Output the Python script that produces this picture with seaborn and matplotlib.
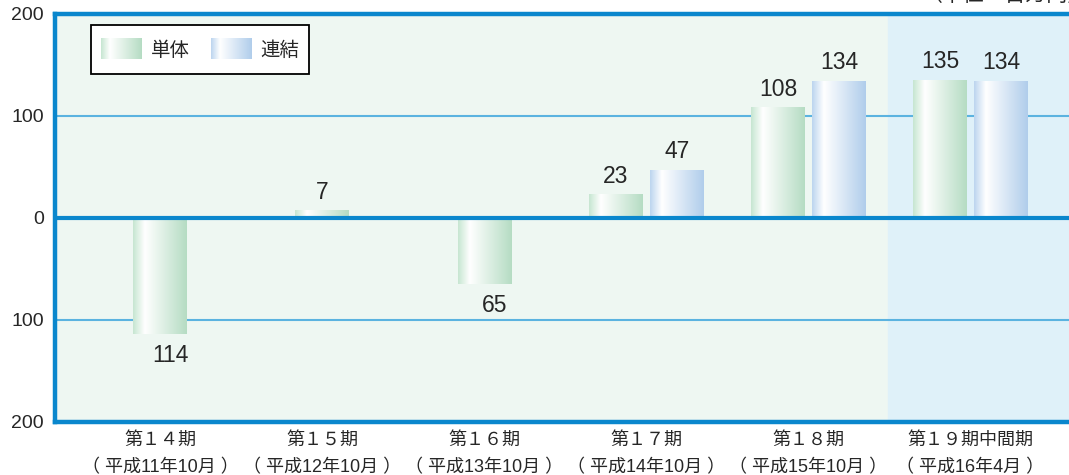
import numpy as np
import pandas as pd
import matplotlib
matplotlib.use("Agg")
import matplotlib.pyplot as plt
import seaborn as sns
from matplotlib.colors import LinearSegmentedColormap
from matplotlib.patches import Patch
from matplotlib.legend_handler import HandlerBase
from matplotlib.image import BboxImage
from matplotlib.transforms import Bbox, TransformedBbox

sns.set_style("white")
plt.rcParams['font.family'] = ['Liberation Sans', 'Noto Sans CJK JP']

# データ（単位：百万円）
periods = ['第１４期\n（ 平成11年10月 ）', '第１５期\n（ 平成12年10月 ）', '第１６期\n（ 平成13年10月 ）',
           '第１７期\n（ 平成14年10月 ）', '第１８期\n（ 平成15年10月 ）', '第１９期中間期\n（ 平成16年4月 ）']
tantai = [-114, 7, -65, 23, 108, 135]
renketsu = [None, None, None, 47, 134, 134]
series = ['単体', '連結']
ytick_vals = [200, 100, 0, -100, -200]
ytick_labels = ['200', '100', '0', '100', '200']

BLUE = '#0a87cd'
GREEN_BASE = '#b5dcc3'
BLUE_BASE = '#b0cdeb'
cmap_g = LinearSegmentedColormap.from_list('g', [(0, '#c6e6d1'), (0.22, '#ffffff'), (1, GREEN_BASE)])
cmap_b = LinearSegmentedColormap.from_list('b', [(0, '#bcd5ef'), (0.22, '#ffffff'), (1, BLUE_BASE)])

# 単体のみの期と、単体・連結の両方がある期を分ける
single = pd.DataFrame({'period': [p for p, r in zip(periods, renketsu) if r is None],
                       'value': [t for t, r in zip(tantai, renketsu) if r is None]})
rows = []
for p, t, r in zip(periods, tantai, renketsu):
    if r is not None:
        rows.append({'period': p, 'series': '単体', 'value': t})
        rows.append({'period': p, 'series': '連結', 'value': r})
both = pd.DataFrame(rows)

fig = plt.figure(figsize=(10.69, 4.75), dpi=100)
ax = fig.add_axes([55 / 1069, 53 / 475, 1014 / 1069, 408 / 475])
ax.set_facecolor('#eef7f2')

sns.barplot(data=single, x='period', y='value', order=periods, color=GREEN_BASE,
            width=0.333, errorbar=None, ax=ax, zorder=3)
sns.barplot(data=both, x='period', y='value', hue='series', order=periods, hue_order=series,
            palette=[GREEN_BASE, BLUE_BASE], width=0.753, gap=0.115, errorbar=None,
            legend=False, ax=ax, zorder=3)

# グラデーション
grad = np.linspace(0, 1, 256).reshape(1, -1)
for p in list(ax.patches):
    fc = p.get_facecolor()
    cm = cmap_g if fc[1] > fc[2] else cmap_b
    x, y, w, h = p.get_x(), p.get_y(), p.get_width(), p.get_height()
    if h == 0:
        continue
    ax.imshow(grad, extent=[x, x + w, y, y + h], aspect='auto', cmap=cm, zorder=3,
              interpolation='bilinear')
    p.set_visible(False)
    val = h
    xc = x + w / 2
    if val >= 0:
        ax.annotate(f'{abs(val):.0f}', (xc, val), xytext=(0, 5), textcoords='offset points',
                    ha='center', va='bottom', fontsize=16.5, zorder=5)
    else:
        ax.annotate(f'{abs(val):.0f}', (xc, val), xytext=(7, -7), textcoords='offset points',
                    ha='center', va='top', fontsize=16.5, zorder=5)

ax.axvspan(4.49, 6, color='#dff1f9', zorder=0)
for v in [100, -100]:
    ax.axhline(v, color='#5bb3e0', lw=1.5, zorder=1)
ax.axhline(0, color=BLUE, lw=3, zorder=4)

ax.set_xlim(-0.651, 5.608)
ax.set_ylim(-200, 200)
ax.set_yticks(ytick_vals)
ax.set_yticklabels(ytick_labels, fontsize=14)
ax.tick_params(axis='y', length=0, pad=8)
ax.tick_params(axis='x', length=0, pad=7, labelsize=13)
for lab in ax.get_xticklabels():
    lab.set_linespacing(1.8)
ax.set_xlabel('')
ax.set_ylabel('')
for s in ['left', 'top', 'bottom']:
    ax.spines[s].set_color(BLUE)
    ax.spines[s].set_linewidth(3.2)
ax.spines['right'].set_visible(False)


class GradHandler(HandlerBase):
    def __init__(self, cmap):
        super().__init__()
        self.cmap = cmap

    def create_artists(self, legend, orig_handle, xdescent, ydescent, width, height, fontsize, trans):
        ih = fontsize * 1.03
        y0 = -ydescent + (height - ih) / 2
        bb = TransformedBbox(Bbox.from_bounds(-xdescent, y0, width, ih), trans)
        img = BboxImage(bb, cmap=self.cmap, interpolation='bilinear')
        img.set_data(grad)
        return [img]


h1 = Patch(label='単体')
h2 = Patch(label='連結')
leg = ax.legend(handles=[h1, h2], handler_map={h1: GradHandler(cmap_g), h2: GradHandler(cmap_b)},
                ncol=2, loc='upper left', bbox_to_anchor=(0.0355, 0.973), borderaxespad=0,
                frameon=True, fancybox=False, framealpha=1, edgecolor='black',
                fontsize=14, handlelength=2.1, handleheight=1.95, handletextpad=0.46,
                columnspacing=1.1, borderpad=0.5)
leg.get_frame().set_linewidth(1.3)
leg.set_zorder(6)

fig.text(922 / 1069, 1 - 1 / 475, '（単位：百万円）', fontsize=15, ha='left', va='baseline')

fig.savefig('out.png', dpi=100)
